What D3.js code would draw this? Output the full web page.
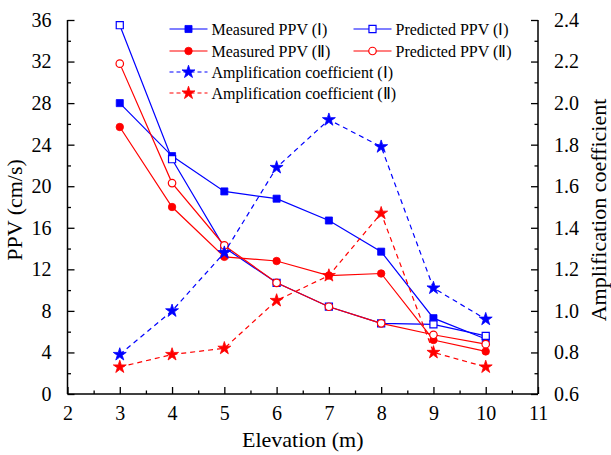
<!DOCTYPE html>
<html>
<head>
<meta charset="utf-8">
<script src="https://cdn.jsdelivr.net/npm/d3@7"></script>
</head>
<body style="margin:0">
<script>
// data
const elevation   = [3, 4, 5, 6, 7, 8, 9, 10];
const measuredI   = [28.0, 22.9, 19.5, 18.8, 16.7, 13.7, 7.3, 5.3];
const predictedI  = [35.5, 22.6, 14.1, 10.7, 8.4, 6.8, 6.7, 5.6];
const measuredII  = [25.7, 18.0, 13.2, 12.8, 11.4, 11.6, 5.2, 4.1];
const predictedII = [31.8, 20.3, 14.3, 10.7, 8.4, 6.8, 5.7, 4.8];
const ampI        = [0.79, 1.00, 1.28, 1.69, 1.92, 1.79, 1.11, 0.96];
const ampII       = [0.73, 0.79, 0.82, 1.05, 1.17, 1.47, 0.80, 0.73];

const xTicks  = [2, 3, 4, 5, 6, 7, 8, 9, 10, 11];
const yTicks  = [0, 4, 8, 12, 16, 20, 24, 28, 32, 36];
const y2Ticks = [0.6, 0.8, 1.0, 1.2, 1.4, 1.6, 1.8, 2.0, 2.2, 2.4];

const series = [
  { name: 'Measured PPV (Ⅰ)', values: measuredI, axis: 'left', color: '#0000ff', marker: 'square', fill: true, dash: null },
  { name: 'Predicted PPV (Ⅰ)', values: predictedI, axis: 'left', color: '#0000ff', marker: 'square', fill: false, dash: null },
  { name: 'Measured PPV (Ⅱ)', values: measuredII, axis: 'left', color: '#ff0000', marker: 'circle', fill: true, dash: null },
  { name: 'Predicted PPV (Ⅱ)', values: predictedII, axis: 'left', color: '#ff0000', marker: 'circle', fill: false, dash: null },
  { name: 'Amplification coefficient (Ⅰ)', values: ampI, axis: 'right', color: '#0000ff', marker: 'star', fill: true, dash: '5,4' },
  { name: 'Amplification coefficient (Ⅱ)', values: ampII, axis: 'right', color: '#ff0000', marker: 'star', fill: true, dash: '5,4' }
];

const width = 611, height = 455;
const margin = { top: 20, right: 73, bottom: 61, left: 67.5 };
const w = width - margin.left - margin.right;
const h = height - margin.top - margin.bottom;
const serif = '"Liberation Serif", serif';

const svg = d3.select('body').append('svg')
  .attr('width', width)
  .attr('height', height);

const g = svg.append('g')
  .attr('transform', 'translate(' + margin.left + ',' + margin.top + ')');

const x = d3.scaleLinear().domain([2, 11]).range([0, w]);
const y = d3.scaleLinear().domain([0, 36]).range([h, 0]);
const y2 = d3.scaleLinear().domain([0.6, 2.4]).range([h, 0]);

// minor ticks first (no labels), then major axes
function minor(axisFn, scale, vals, transform) {
  g.append('g')
    .attr('transform', transform)
    .call(axisFn(scale).tickValues(vals).tickSize(-3.5).tickFormat(''))
    .call(s => s.select('.domain').remove())
    .call(s => s.selectAll('line').attr('stroke-width', 1.3));
}
minor(d3.axisBottom, x, d3.range(2.5, 11, 1), 'translate(0,' + h + ')');
minor(d3.axisLeft, y, d3.range(2, 36, 4), '');
minor(d3.axisRight, y2, d3.range(0.7, 2.4, 0.2), 'translate(' + w + ',0)');

const xAxis = g.append('g')
  .attr('transform', 'translate(0,' + h + ')')
  .call(d3.axisBottom(x).tickValues(xTicks).tickSize(-7).tickPadding(12).tickFormat(d3.format('d')));
const yAxis = g.append('g')
  .call(d3.axisLeft(y).tickValues(yTicks).tickSize(-7).tickPadding(16).tickFormat(d3.format('d')));
const y2Axis = g.append('g')
  .attr('transform', 'translate(' + w + ',0)')
  .call(d3.axisRight(y2).tickValues(y2Ticks).tickSize(-7).tickPadding(16).tickFormat(d3.format('.1f')));

[xAxis, yAxis, y2Axis].forEach(a => {
  a.attr('font-family', null).attr('font-size', null);
  a.select('.domain').attr('stroke-width', 1.5);
  a.selectAll('line').attr('stroke-width', 1.3);
  a.selectAll('text').style('font-size', '20px').style('font-family', serif);
});
xAxis.select('.domain').attr('d', 'M0,0H' + w);
yAxis.select('.domain').attr('d', 'M0,' + h + 'V0');
y2Axis.select('.domain').attr('d', 'M0,' + h + 'V0');

// axis titles
g.append('text')
  .attr('x', w / 2).attr('y', h + 53)
  .attr('text-anchor', 'middle')
  .style('font-family', serif)
  .style('font-size', '22px')
  .text('Elevation (m)');
g.append('text')
  .attr('transform', 'translate(-46,' + (h / 2 + 3) + ') rotate(-90)')
  .attr('text-anchor', 'middle')
  .style('font-family', serif)
  .style('font-size', '22px')
  .text('PPV (cm/s)');
g.append('text')
  .attr('transform', 'translate(' + (w + 68) + ',' + (h / 2 + 3) + ') rotate(-90)')
  .attr('text-anchor', 'middle')
  .style('font-family', serif)
  .style('font-size', '22px')
  .text('Amplification coefficient');

const symbols = {
  square: d3.symbol().type(d3.symbolSquare).size(50),
  circle: d3.symbol().type(d3.symbolCircle).size(44),
  star: d3.symbol().type(d3.symbolStar).size(52)
};

function drawMarker(sel, s) {
  sel.append('path')
    .attr('d', symbols[s.marker]())
    .attr('fill', s.fill ? s.color : '#fff')
    .attr('stroke', s.color)
    .attr('stroke-width', s.fill ? 0.8 : 1.2);
}

series.forEach(s => {
  const ys = s.axis === 'left' ? y : y2;
  const pts = elevation.map((e, i) => [e, s.values[i]]);
  const line = d3.line().x(d => x(d[0])).y(d => ys(d[1]));
  g.append('path')
    .datum(pts)
    .attr('d', line)
    .attr('fill', 'none')
    .attr('stroke', s.color)
    .attr('stroke-width', 1.2)
    .attr('stroke-dasharray', s.dash);
  g.append('g').selectAll('g')
    .data(pts)
    .enter().append('g')
    .attr('transform', d => 'translate(' + x(d[0]) + ',' + ys(d[1]) + ')')
    .each(function() { drawMarker(d3.select(this), s); });
});

// legend
const legendPos = [
  [102, 9], [286, 9],
  [102, 31], [286, 31],
  [102, 52], [102, 73]
];
const legend = g.append('g');
series.forEach((s, k) => {
  const p = legendPos[k];
  const item = legend.append('g').attr('transform', 'translate(' + p[0] + ',' + p[1] + ')');
  item.append('line')
    .attr('x1', 0).attr('x2', 38)
    .attr('stroke', s.color)
    .attr('stroke-width', 1.2)
    .attr('stroke-dasharray', s.dash ? '4,3' : null);
  const m = item.append('g').attr('transform', 'translate(19,0)');
  drawMarker(m, s);
  item.append('text')
    .attr('x', 42).attr('y', 5.5)
    .style('font-family', serif)
    .style('font-size', '16px')
    .text(s.name);
});
</script>
</body>
</html>
